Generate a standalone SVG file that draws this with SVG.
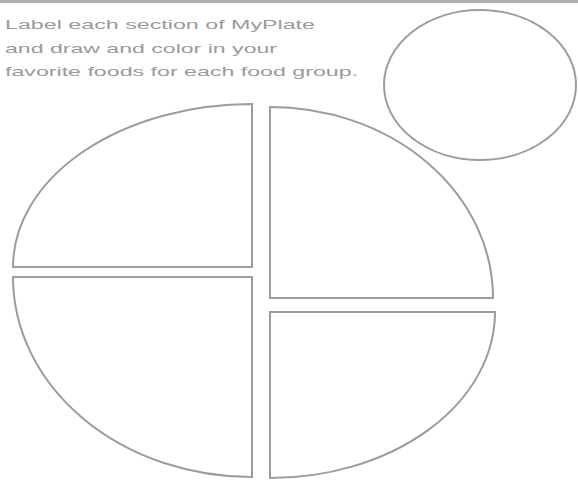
<svg xmlns="http://www.w3.org/2000/svg" width="578" height="481" viewBox="0 0 578 481">
<style>
.s{fill:#ffffff;stroke:#9c9c9c;stroke-width:2;}
.t{font-family:"Liberation Sans",Arial,sans-serif;font-size:13px;fill:#9a9a9a;}
</style>
<rect x="0" y="0" width="578" height="481" fill="#ffffff"/>
<line x1="0" y1="1.5" x2="578" y2="1.5" stroke="#b0b0b0" stroke-width="3"/>
<g id="instructions">
<text class="t" x="5" y="29" textLength="310" lengthAdjust="spacingAndGlyphs">Label each section of MyPlate</text>
<text class="t" x="5" y="53" textLength="272" lengthAdjust="spacingAndGlyphs">and draw and color in your</text>
<text class="t" x="5" y="76" textLength="353" lengthAdjust="spacingAndGlyphs">favorite foods for each food group.</text>
</g>
<g id="cup">
<ellipse class="s" cx="480" cy="85" rx="96" ry="75"/>
</g>
<g id="plate-top-left">
<path class="s" d="M252,104 L252,267 L13,267 A239,163 0 0 1 252,104 Z"/>
</g>
<g id="plate-bottom-left">
<path class="s" d="M13,277 L252,277 L252,477 A239,200 0 0 1 13,277 Z"/>
</g>
<g id="plate-top-right">
<path class="s" d="M270,107 L270,298 L493,298 A223,191 0 0 0 270,107 Z"/>
</g>
<g id="plate-bottom-right">
<path class="s" d="M270,312 L495,312 A225,166 0 0 1 270,478 Z"/>
</g>
<g id="connectors"></g>
</svg>
